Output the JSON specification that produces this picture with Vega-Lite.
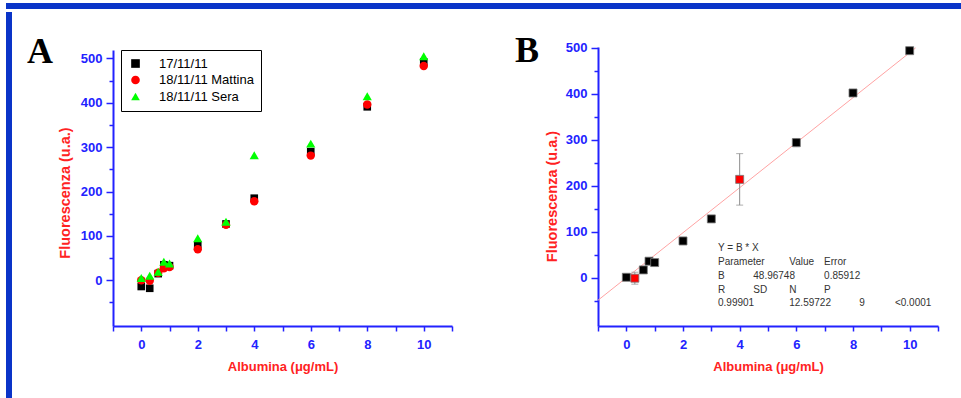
{
  "$schema": "https://vega.github.io/schema/vega-lite/v6.json",
  "padding": {"left": 6, "top": 3, "right": 0, "bottom": 0},
  "background": "white",
  "spacing": 0,
  "config": {"view": {"stroke": null}, "font": "Liberation Sans"},
  "resolve": {"scale": {"color": "independent", "shape": "independent"}, "legend": {"color": "independent", "shape": "independent"}},
  "vconcat": [
    {"width": 955, "height": 6, "data": {"values": [{}]}, "mark": {"type": "point", "opacity": 0}, "encoding": {}, "view": {"fill": "#0a34c8", "stroke": null}},
    {
      "spacing": 0,
      "resolve": {"scale": {"color": "independent", "shape": "independent"}, "legend": {"color": "independent", "shape": "independent"}},
      "hconcat": [
        {"width": 6, "height": 387, "data": {"values": [{}]}, "mark": {"type": "point", "opacity": 0}, "encoding": {}, "view": {"fill": "#0a34c8", "stroke": null}},
        {"width": 15, "height": 1, "data": {"values": [{}]}, "mark": {"type": "point", "opacity": 0}, "encoding": {}},
        {
          "spacing": 0,
          "vconcat": [
            {"width": 1, "height": 21, "data": {"values": [{}]}, "mark": {"type": "point", "opacity": 0}, "encoding": {}},
            {
              "width": 339,
              "height": 276,
              "title": {"text": "A", "orient": "top", "anchor": "start", "frame": "group", "font": "Liberation Serif", "fontSize": 36, "fontWeight": "bold", "color": "#000000", "baseline": "alphabetic", "offset": 0, "dx": -86, "dy": 48.5},
              "data": {"values": [
                {"conc": 0, "fluor": -14, "serie": "17/11/11"},
                {"conc": 0.3, "fluor": -18, "serie": "17/11/11"},
                {"conc": 0.6, "fluor": 15, "serie": "17/11/11"},
                {"conc": 0.8, "fluor": 35, "serie": "17/11/11"},
                {"conc": 1, "fluor": 33, "serie": "17/11/11"},
                {"conc": 2, "fluor": 80, "serie": "17/11/11"},
                {"conc": 3, "fluor": 127, "serie": "17/11/11"},
                {"conc": 4, "fluor": 185, "serie": "17/11/11"},
                {"conc": 6, "fluor": 290, "serie": "17/11/11"},
                {"conc": 8, "fluor": 391, "serie": "17/11/11"},
                {"conc": 10, "fluor": 492, "serie": "17/11/11"},
                {"conc": 0, "fluor": 0, "serie": "18/11/11 Mattina"},
                {"conc": 0.3, "fluor": -1, "serie": "18/11/11 Mattina"},
                {"conc": 0.6, "fluor": 17, "serie": "18/11/11 Mattina"},
                {"conc": 0.8, "fluor": 27, "serie": "18/11/11 Mattina"},
                {"conc": 1, "fluor": 30, "serie": "18/11/11 Mattina"},
                {"conc": 2, "fluor": 70, "serie": "18/11/11 Mattina"},
                {"conc": 3, "fluor": 125, "serie": "18/11/11 Mattina"},
                {"conc": 4, "fluor": 178, "serie": "18/11/11 Mattina"},
                {"conc": 6, "fluor": 281, "serie": "18/11/11 Mattina"},
                {"conc": 8, "fluor": 396, "serie": "18/11/11 Mattina"},
                {"conc": 10, "fluor": 483, "serie": "18/11/11 Mattina"},
                {"conc": 0, "fluor": 5, "serie": "18/11/11 Sera"},
                {"conc": 0.3, "fluor": 10, "serie": "18/11/11 Sera"},
                {"conc": 0.6, "fluor": 19, "serie": "18/11/11 Sera"},
                {"conc": 0.8, "fluor": 42, "serie": "18/11/11 Sera"},
                {"conc": 1, "fluor": 38, "serie": "18/11/11 Sera"},
                {"conc": 2, "fluor": 95, "serie": "18/11/11 Sera"},
                {"conc": 3, "fluor": 132, "serie": "18/11/11 Sera"},
                {"conc": 4, "fluor": 282, "serie": "18/11/11 Sera"},
                {"conc": 6, "fluor": 308, "serie": "18/11/11 Sera"},
                {"conc": 8, "fluor": 415, "serie": "18/11/11 Sera"},
                {"conc": 10, "fluor": 505, "serie": "18/11/11 Sera"}
              ]},
              "mark": {"type": "point", "filled": true, "opacity": 1},
              "encoding": {
                "x": {"field": "conc", "type": "quantitative", "scale": {"domain": [-1, 11], "nice": false, "zero": false},
                  "axis": {"title": "Albumina (μg/mL)", "values": [-1, 0, 1, 2, 3, 4, 5, 6, 7, 8, 9, 10, 11], "labelExpr": "datum.value % 2 === 0 ? datum.label : ''", "grid": false, "domainColor": "#2222ff", "domainWidth": 2, "tickColor": "#2222ff", "tickWidth": 1.5, "tickSize": 5, "labelColor": "#2222ff", "labelFont": "Liberation Sans", "labelFontSize": 13, "labelFontWeight": "bold", "labelPadding": 7, "labelOverlap": false, "titleColor": "#ff2222", "titleFont": "Liberation Sans", "titleFontSize": 13, "titleFontWeight": "bold", "titlePadding": 9}},
                "y": {"field": "fluor", "type": "quantitative", "scale": {"domain": [-103, 519], "nice": false, "zero": false},
                  "axis": {"title": "Fluorescenza (u.a.)", "values": [-50, 0, 50, 100, 150, 200, 250, 300, 350, 400, 450, 500], "labelExpr": "datum.value % 100 === 0 ? datum.label : ''", "grid": false, "domainColor": "#2222ff", "domainWidth": 2, "tickColor": "#2222ff", "tickWidth": 1.5, "tickSize": {"condition": {"test": "datum.value % 100 === 0", "value": 7}, "value": 4}, "labelColor": "#2222ff", "labelFont": "Liberation Sans", "labelFontSize": 13, "labelFontWeight": "bold", "labelPadding": 4, "labelOverlap": false, "titleColor": "#ff2222", "titleFont": "Liberation Sans", "titleFontSize": 14.5, "titleFontWeight": "bold", "titlePadding": 8, "titleY": 142.5}},
                "color": {"field": "serie", "type": "nominal", "scale": {"domain": ["17/11/11", "18/11/11 Mattina", "18/11/11 Sera"], "range": ["#000000", "#ff0000", "#00ff00"]},
                  "legend": {"orient": "none", "legendX": 8, "legendY": 38, "title": null, "strokeColor": "#000000", "fillColor": "#ffffff", "padding": 7, "labelFont": "Liberation Sans", "labelFontSize": 13, "labelColor": "#000000", "symbolSize": 75, "rowPadding": 2.5, "labelOffset": 17, "symbolOffset": 1}},
                "shape": {"field": "serie", "type": "nominal", "scale": {"domain": ["17/11/11", "18/11/11 Mattina", "18/11/11 Sera"], "range": ["square", "circle", "triangle-up"]},
                  "legend": {"orient": "none", "legendX": 8, "legendY": 38, "title": null, "strokeColor": "#000000", "fillColor": "#ffffff", "padding": 7, "labelFont": "Liberation Sans", "labelFontSize": 13, "labelColor": "#000000", "symbolSize": 75, "rowPadding": 2.5, "labelOffset": 17, "symbolOffset": 1}},
                "size": {"field": "serie", "type": "nominal", "scale": {"domain": ["17/11/11", "18/11/11 Mattina", "18/11/11 Sera"], "range": [58, 85, 100]}, "legend": null}
              }
            }
          ]
        },
        {"width": 62, "height": 1, "data": {"values": [{}]}, "mark": {"type": "point", "opacity": 0}, "encoding": {}},
        {
          "spacing": 0,
          "vconcat": [
            {"width": 1, "height": 21, "data": {"values": [{}]}, "mark": {"type": "point", "opacity": 0}, "encoding": {}},
            {
              "width": 340,
              "height": 279,
              "title": {"text": "B", "orient": "top", "anchor": "start", "frame": "group", "font": "Liberation Serif", "fontSize": 36, "fontWeight": "bold", "color": "#000000", "baseline": "alphabetic", "offset": 0, "dx": -83, "dy": 56.5},
              "data": {"values": [
                {"conc": 0, "fluor": 1, "lo": -5, "hi": 6, "uso": "fit"},
                {"conc": 0.3, "fluor": -1, "lo": -14, "hi": 12, "uso": "escluso"},
                {"conc": 0.6, "fluor": 17, "lo": 14, "hi": 20, "uso": "fit"},
                {"conc": 0.8, "fluor": 36, "lo": 32, "hi": 40, "uso": "fit"},
                {"conc": 1, "fluor": 33, "lo": 30, "hi": 36, "uso": "fit"},
                {"conc": 2, "fluor": 80, "lo": 72, "hi": 88, "uso": "fit"},
                {"conc": 3, "fluor": 128, "lo": 124, "hi": 132, "uso": "fit"},
                {"conc": 4, "fluor": 214, "lo": 158, "hi": 270, "uso": "escluso"},
                {"conc": 6, "fluor": 294, "lo": 285, "hi": 303, "uso": "fit"},
                {"conc": 8, "fluor": 402, "lo": 397, "hi": 407, "uso": "fit"},
                {"conc": 10, "fluor": 494, "lo": 491, "hi": 497, "uso": "fit"}
              ]},
              "encoding": {
                "x": {"field": "conc", "type": "quantitative", "scale": {"domain": [-1, 11], "nice": false, "zero": false},
                  "axis": {"title": "Albumina (μg/mL)", "values": [-1, 0, 1, 2, 3, 4, 5, 6, 7, 8, 9, 10, 11], "labelExpr": "datum.value % 2 === 0 ? datum.label : ''", "grid": false, "domainColor": "#2222ff", "domainWidth": 2, "tickColor": "#2222ff", "tickWidth": 1.5, "tickSize": 5, "labelColor": "#2222ff", "labelFont": "Liberation Sans", "labelFontSize": 13, "labelFontWeight": "bold", "labelPadding": 7, "labelOverlap": false, "titleColor": "#ff2222", "titleFont": "Liberation Sans", "titleFontSize": 13, "titleFontWeight": "bold", "titlePadding": 9}},
                "y": {"field": "fluor", "type": "quantitative", "scale": {"domain": [-105, 502], "nice": false, "zero": false},
                  "axis": {"title": "Fluorescenza (u.a.)", "values": [-50, 0, 50, 100, 150, 200, 250, 300, 350, 400, 450, 500], "labelExpr": "datum.value % 100 === 0 ? datum.label : ''", "grid": false, "domainColor": "#2222ff", "domainWidth": 2, "tickColor": "#2222ff", "tickWidth": 1.5, "tickSize": {"condition": {"test": "datum.value % 100 === 0", "value": 7}, "value": 4}, "labelColor": "#2222ff", "labelFont": "Liberation Sans", "labelFontSize": 13, "labelFontWeight": "bold", "labelPadding": 4, "labelOverlap": false, "titleColor": "#ff2222", "titleFont": "Liberation Sans", "titleFontSize": 14.5, "titleFontWeight": "bold", "titlePadding": 6, "titleY": 149}}
              },
              "layer": [
                {
                  "data": {"values": [{"conc": -1, "fluor": -48.97}, {"conc": 10.21, "fluor": 500}]},
                  "mark": {"type": "line", "color": "#ffa3a3", "strokeWidth": 1}
                },
                {
                  "mark": {"type": "rule", "color": "#8c8c8c", "strokeWidth": 1},
                  "encoding": {"y": {"field": "lo", "type": "quantitative", "scale": {"domain": [-105, 502], "nice": false, "zero": false}}, "y2": {"field": "hi"}}
                },
                {
                  "mark": {"type": "tick", "orient": "horizontal", "size": 7, "thickness": 1, "color": "#8c8c8c"},
                  "encoding": {"y": {"field": "lo", "type": "quantitative", "scale": {"domain": [-105, 502], "nice": false, "zero": false}}}
                },
                {
                  "mark": {"type": "tick", "orient": "horizontal", "size": 7, "thickness": 1, "color": "#8c8c8c"},
                  "encoding": {"y": {"field": "hi", "type": "quantitative", "scale": {"domain": [-105, 502], "nice": false, "zero": false}}}
                },
                {
                  "mark": {"type": "square", "filled": true, "opacity": 1, "size": 64, "stroke": "#777777", "strokeWidth": 0.8},
                  "encoding": {"color": {"field": "uso", "type": "nominal", "scale": {"domain": ["fit", "escluso"], "range": ["#000000", "#ff0000"]}, "legend": null}}
                },
                {
                  "data": {"values": [
                    {"conc": 3.235, "fluor": 64.1, "t": "Y = B * X"},
                    {"conc": 3.235, "fluor": 33.6, "t": "Parameter"},
                    {"conc": 5.75, "fluor": 33.6, "t": "Value"},
                    {"conc": 6.98, "fluor": 33.6, "t": "Error"},
                    {"conc": 3.235, "fluor": 3.8, "t": "B"},
                    {"conc": 4.48, "fluor": 3.8, "t": "48.96748"},
                    {"conc": 6.98, "fluor": 3.8, "t": "0.85912"},
                    {"conc": 3.235, "fluor": -26.7, "t": "R"},
                    {"conc": 4.48, "fluor": -26.7, "t": "SD"},
                    {"conc": 5.75, "fluor": -26.7, "t": "N"},
                    {"conc": 6.98, "fluor": -26.7, "t": "P"},
                    {"conc": 3.235, "fluor": -55.6, "t": "0.99901"},
                    {"conc": 5.75, "fluor": -55.6, "t": "12.59722"},
                    {"conc": 8.22, "fluor": -55.6, "t": "9"},
                    {"conc": 9.48, "fluor": -55.6, "t": "<0.0001"}
                  ]},
                  "mark": {"type": "text", "align": "left", "baseline": "middle", "font": "Liberation Sans", "fontSize": 10, "color": "#333333"},
                  "encoding": {"text": {"field": "t", "type": "nominal"}}
                }
              ]
            }
          ]
        }
      ]
    },
    {"width": 955, "height": 1.5, "data": {"values": [{}]}, "mark": {"type": "point", "opacity": 0}, "encoding": {}, "view": {"fill": "#3a64d8", "stroke": null}}
  ]
}
